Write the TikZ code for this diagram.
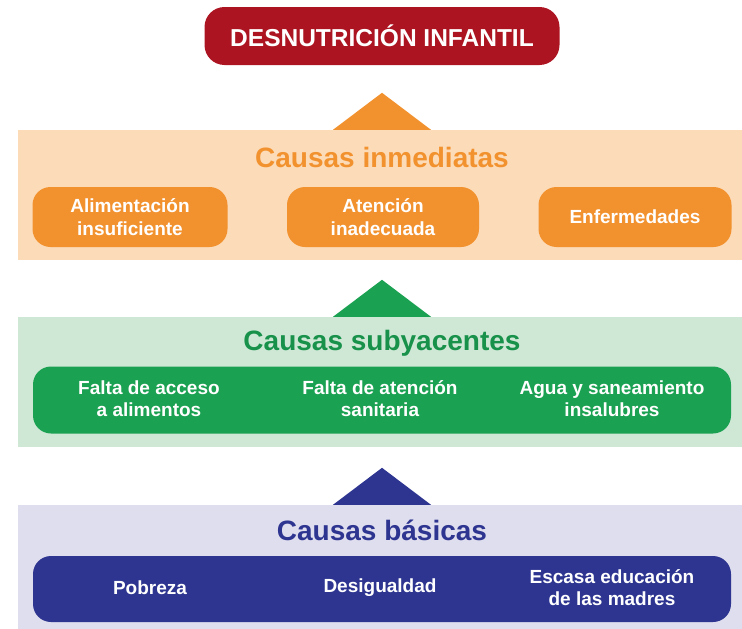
\documentclass[tikz,border=0pt]{standalone}
\usepackage{fontspec}
\setmainfont{Liberation Sans}
\usetikzlibrary{positioning}
\definecolor{dnired}{HTML}{AC1421}
\definecolor{dnorange}{HTML}{F2922F}
\definecolor{dnorangebg}{HTML}{FCDBB8}
\definecolor{dngreen}{HTML}{1BA152}
\definecolor{dngreenbg}{HTML}{CFE8D6}
\definecolor{dnblue}{HTML}{2D3590}
\definecolor{dnbluebg}{HTML}{DFDEEE}

\begin{document}
\begin{tikzpicture}[x=1pt, y=-1pt,
    band/.style={rectangle, inner sep=0pt, minimum width=724pt},
    title/.style={font=\bfseries\fontsize{28}{30}\selectfont},
    cause/.style={rectangle, rounded corners=18pt, inner sep=0pt, text=white,
        align=center, font=\bfseries\fontsize{19}{23}\selectfont},
    item/.style={text=white, align=center, font=\bfseries\fontsize{19}{22}\selectfont}
]
\useasboundingbox (0,0) rectangle (742,629);

% === Desnutricion infantil ===
\node[rectangle, rounded corners=20pt, fill=dnired, text=white, minimum width=355pt,
    minimum height=58pt, font=\bfseries\fontsize{24.5}{28}\selectfont] (desn) at (382,36)
    {DESNUTRICIÓN INFANTIL};

% === Causas inmediatas ===
\node[band, fill=dnorangebg, minimum height=130pt] (inmed) at (380,195) {};
\fill[dnorange] (inmed.north) ++(-47,0) -- ++(49,-37) -- ++(49,37) -- cycle;
\node[title, text=dnorange] (inmedtit) at (382,157) {Causas inmediatas};
\node[cause, fill=dnorange, minimum width=195pt, minimum height=60pt] (alim) at (130,217)
    {Alimentación\\insuficiente};
\node[cause, fill=dnorange, minimum width=192pt, minimum height=60pt] (aten) at (383,217)
    {Atención\\inadecuada};
\node[cause, fill=dnorange, minimum width=193pt, minimum height=60pt] (enf) at (635,217)
    {Enfermedades};

% === Causas subyacentes ===
\node[band, fill=dngreenbg, minimum height=130pt] (suby) at (380,382) {};
\fill[dngreen] (suby.north) ++(-47,0) -- ++(49,-37) -- ++(49,37) -- cycle;
\node[title, text=dngreen!90!black] (subytit) at (382,343) {Causas subyacentes};
\node[cause, fill=dngreen, minimum width=698pt, minimum height=67pt] (subybox) at (382,400) {};
\node[item] (acceso) at (149,399) {Falta de acceso\\a alimentos};
\node[item] (sanit) at (380,399) {Falta de atención\\sanitaria};
\node[item] (agua) at (612,399) {Agua y saneamiento\\insalubres};

% === Causas basicas ===
\node[band, fill=dnbluebg, minimum height=124pt] (basic) at (380,567) {};
\fill[dnblue] (basic.north) ++(-47,0) -- ++(49,-37) -- ++(49,37) -- cycle;
\node[title, text=dnblue] (basictit) at (382,530) {Causas básicas};
\node[cause, fill=dnblue, minimum width=698pt, minimum height=66pt] (basicbox) at (382,589) {};
\node[item] (pobr) at (150,588) {Pobreza};
\node[item] (desig) at (380,588) {Desigualdad};
\node[item] (educ) at (612,588) {Escasa educación\\de las madres};

\end{tikzpicture}
\end{document}
